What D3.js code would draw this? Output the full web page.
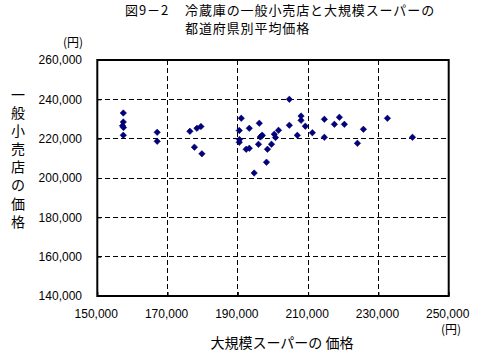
<!DOCTYPE html>
<html><head><meta charset="utf-8">
<script src="https://cdn.jsdelivr.net/npm/d3@7"></script>
<style>body{margin:0;background:#fff}svg{display:block}</style>
</head><body>
<svg id="c" width="494" height="361"></svg>
<script>
const superPrice = [157400,157400,157180,157460,157400,167040,167040,176350,178350,179490,177640,179770,190970,190400,190460,190400,192360,193250,193250,194640,196100,195870,196380,196950,196720,198150,198430,199570,200370,200710,201570,204650,204650,206920,207980,207980,209200,211200,214620,214620,217470,218890,220310,224020,225730,232560,239690];
const retailPrice = [233050,228470,226540,225680,221760,223240,218660,223740,225270,226180,215660,212300,230400,224150,219570,218150,214590,215100,225270,202540,227860,217130,220850,221710,221350,208030,214640,217180,222270,220590,224250,240020,226800,221710,231520,229340,226340,223030,229850,220690,227300,230860,227300,217640,224760,230350,220690];
const xTicks = [150000,170000,190000,210000,230000,250000];
const yTicks = [140000,160000,180000,200000,220000,240000,260000];
const titleLine1a = "図9－2";
const titleLine1b = "冷蔵庫の一般小売店と大規模スーパーの";
const titleLine2 = "都道府県別平均価格";
const yTitle = "一般小売店の価格";
const xTitle = "大規模スーパーの 価格";
const unit = "(円)";

const svg = d3.select("#c");
const L=97.3, R=448.7, T=60, B=296;
const x = d3.scaleLinear().domain([150000,250000]).range([L,R]);
const y = d3.scaleLinear().domain([140000,260000]).range([B,T]);
const fmt = d3.format(",");
const jp = "'Noto Sans CJK JP', sans-serif";
const num = "'Liberation Sans', Arial, sans-serif";

// gridlines
svg.append("g").selectAll("line").data(yTicks.filter(d=>d>140000&&d<260000)).join("line")
  .attr("x1",L).attr("x2",R).attr("y1",d=>y(d)).attr("y2",d=>y(d))
  .attr("stroke","#000").attr("stroke-width",1).attr("stroke-dasharray","5,3").attr("shape-rendering","crispEdges");
svg.append("g").selectAll("line").data(xTicks.filter(d=>d>150000&&d<250000)).join("line")
  .attr("y1",T).attr("y2",B).attr("x1",d=>x(d)).attr("x2",d=>x(d))
  .attr("stroke","#000").attr("stroke-width",1).attr("stroke-dasharray","5,3").attr("shape-rendering","crispEdges");

// axes (ticks inward)
const ax = svg.append("g").attr("transform",`translate(0,${B})`)
  .call(d3.axisBottom(x).tickValues(xTicks).tickSize(-4).tickFormat(""));
const ay = svg.append("g").attr("transform",`translate(${L},0)`)
  .call(d3.axisLeft(y).tickValues(yTicks).tickSize(-4).tickFormat(""));
[ax,ay].forEach(g=>{g.select(".domain").remove(); g.selectAll("line").attr("stroke","#000");});

// border
svg.append("rect").attr("x",L).attr("y",T).attr("width",R-L).attr("height",B-T)
  .attr("fill","none").attr("stroke","#000").attr("stroke-width",2);

// tick labels
svg.append("g").selectAll("text").data(yTicks).join("text")
  .attr("x",82).attr("y",d=>y(d)).attr("dy","0.36em").attr("text-anchor","end")
  .attr("font-family",num).attr("font-size",12).text(d=>fmt(d));
svg.append("g").selectAll("text").data(xTicks).join("text")
  .attr("x",d=>x(d)-1).attr("y",318).attr("text-anchor","middle")
  .attr("font-family",num).attr("font-size",12).text(d=>fmt(d));

// points
const pts = d3.zip(superPrice, retailPrice);
svg.append("g").selectAll("path").data(pts).join("path")
  .attr("d",d3.symbol(d3.symbolDiamond2,26))
  .attr("transform",d=>`translate(${x(d[0])},${y(d[1])})`)
  .attr("fill","#000080").attr("stroke","#000060").attr("stroke-width",0.6);

// titles
svg.append("text").attr("x",125).attr("y",14.5).attr("font-family",jp).attr("font-size",13).attr("letter-spacing",0.9).text(titleLine1a);
svg.append("text").attr("x",185).attr("y",14.5).attr("font-family",jp).attr("font-size",13).attr("letter-spacing",0.9).text(titleLine1b);
svg.append("text").attr("x",185).attr("y",33).attr("font-family",jp).attr("font-size",13).attr("letter-spacing",0.9).text(titleLine2);

svg.append("text").attr("x",83).attr("y",47).attr("text-anchor","end").attr("font-family",jp).attr("font-size",12).text(unit);
svg.append("text").attr("x",451).attr("y",334).attr("text-anchor","middle").attr("font-family",jp).attr("font-size",12).text(unit);
svg.append("text").attr("x",282).attr("y",348).attr("text-anchor","middle").attr("font-family",jp).attr("font-size",14).text(xTitle);
const yt = svg.append("text").attr("font-family",jp).attr("font-size",14).attr("text-anchor","middle");
yt.selectAll("tspan").data(Array.from(yTitle)).join("tspan")
  .attr("x",18).attr("y",(d,i)=>95+i*18.1).attr("dy","0.35em").text(d=>d);
</script>
</body></html>
